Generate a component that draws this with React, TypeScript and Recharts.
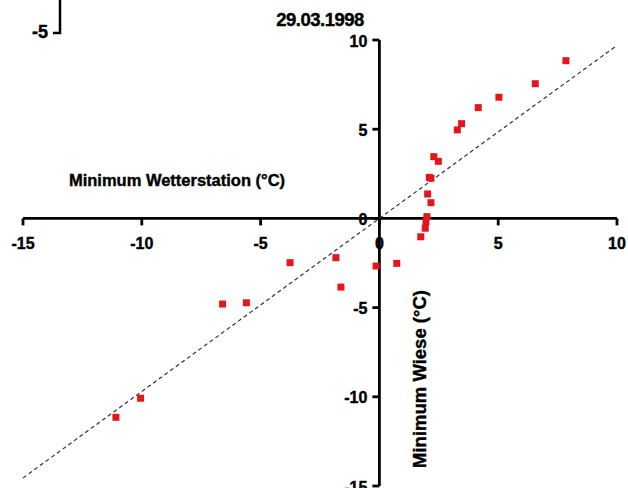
import { ReferenceLine, Scatter, ScatterChart, XAxis, YAxis } from "recharts";

const FONT = "'Liberation Sans', Arial, sans-serif";
const RED = "#e3161b";

// Minimum Wetterstation (x) vs. Minimum Wiese (y), °C
const stationMin = [
  7.85, 6.56, 5.03, 4.16, 3.46, 3.28, 2.29, 2.48, 2.1, 2.17, 2.03, 2.17, 2.0,
  1.96, 1.93, 1.74, -3.76, -1.83, -1.62, -0.14, 0.73, -6.6, -5.6, -10.05, -11.09,
];
const meadowMin = [
  8.84, 7.55, 6.79, 6.21, 5.31, 4.96, 3.46, 3.2, 2.3, 2.25, 1.37, 0.88, 0.1,
  -0.18, -0.55, -1.03, -2.48, -2.2, -3.85, -2.67, -2.52, -4.8, -4.73, -10.08, -11.15,
];

const xTickValues = [-15, -10, -5, 0, 5, 10];
const yTickValues = [-15, -10, -5, 0, 5, 10];

// dashed reference line (through origin)
const lineStart = { x: -15, y: -14.55 };
const lineEnd = { x: 9.96, y: 9.66 };

const points = stationMin.map((x, i) => ({ x, y: meadowMin[i] }));
const xTicks = xTickValues.map((v) => ({ x: v, y: 0, label: String(v) }));
const yTicks = yTickValues.map((v) => ({ x: 0, y: v, label: String(v) }));

const SquareDot = (props: any) => {
  const { cx, cy } = props;
  return <rect x={cx - 3.5} y={cy - 3.5} width={7} height={7} fill={RED} />;
};

const XTickMark = (props: any) => {
  const { cx, cy, payload } = props;
  return (
    <g>
      <line x1={cx} y1={cy} x2={cx} y2={cy + 7} stroke="#000" strokeWidth={2.8} />
      <text
        x={cx}
        y={cy + 25}
        textAnchor="middle"
        dominantBaseline="central"
        fontFamily={FONT}
        fontWeight="bold"
        fontSize={16}
        fill="#000"
        stroke="#000"
        strokeWidth={0.4}
      >
        {payload.label}
      </text>
    </g>
  );
};

const YTickMark = (props: any) => {
  const { cx, cy, payload } = props;
  return (
    <g>
      <line x1={cx - 7} y1={cy} x2={cx} y2={cy} stroke="#000" strokeWidth={2.8} />
      <text
        x={cx - 12}
        y={cy + 1}
        textAnchor="end"
        dominantBaseline="central"
        fontFamily={FONT}
        fontWeight="bold"
        fontSize={16}
        fill="#000"
        stroke="#000"
        strokeWidth={0.4}
      >
        {payload.label}
      </text>
    </g>
  );
};

export default function App() {
  return (
    <div style={{ position: "absolute", left: 0, top: 0, width: 628, height: 488, background: "#fff" }}>
      <ScatterChart width={628} height={488} margin={{ top: 40, right: 11, bottom: 2, left: 23 }}>
        <XAxis type="number" dataKey="x" domain={[-15, 10]} hide />
        <YAxis type="number" dataKey="y" domain={[-15, 10]} hide />
        <ReferenceLine x={0} stroke="#000" strokeWidth={2.8} />
        <ReferenceLine y={0} stroke="#000" strokeWidth={2.8} />
        <ReferenceLine
          segment={[lineStart, lineEnd]}
          stroke="#333"
          strokeWidth={1.2}
          strokeDasharray="4 3"
        />
        <Scatter data={xTicks} shape={XTickMark} isAnimationActive={false} />
        <Scatter data={yTicks} shape={YTickMark} isAnimationActive={false} />
        <Scatter data={points} shape={SquareDot} isAnimationActive={false} />
      </ScatterChart>
      <svg
        width={628}
        height={488}
        style={{ position: "absolute", left: 0, top: 0, pointerEvents: "none" }}
      >
        <g fontFamily={FONT} fontWeight="bold" fill="#000" stroke="#000" strokeWidth={0.4}>
          <text x={320} y={19} textAnchor="middle" dominantBaseline="central" fontSize={18.5} letterSpacing={-0.5}>
            29.03.1998
          </text>
          <text x={48} y={32} textAnchor="end" dominantBaseline="central" fontSize={18}>
            -5
          </text>
          <text x={177} y={180} textAnchor="middle" dominantBaseline="central" fontSize={16.5}>
            Minimum Wetterstation (°C)
          </text>
          <text
            x={419}
            y={379}
            textAnchor="middle"
            dominantBaseline="central"
            fontSize={18.5}
            transform="rotate(-90 419 379)"
          >
            Minimum Wiese (°C)
          </text>
        </g>
        <path d="M60 0 V33 H53" fill="none" stroke="#000" strokeWidth={2.5} />
      </svg>
    </div>
  );
}
